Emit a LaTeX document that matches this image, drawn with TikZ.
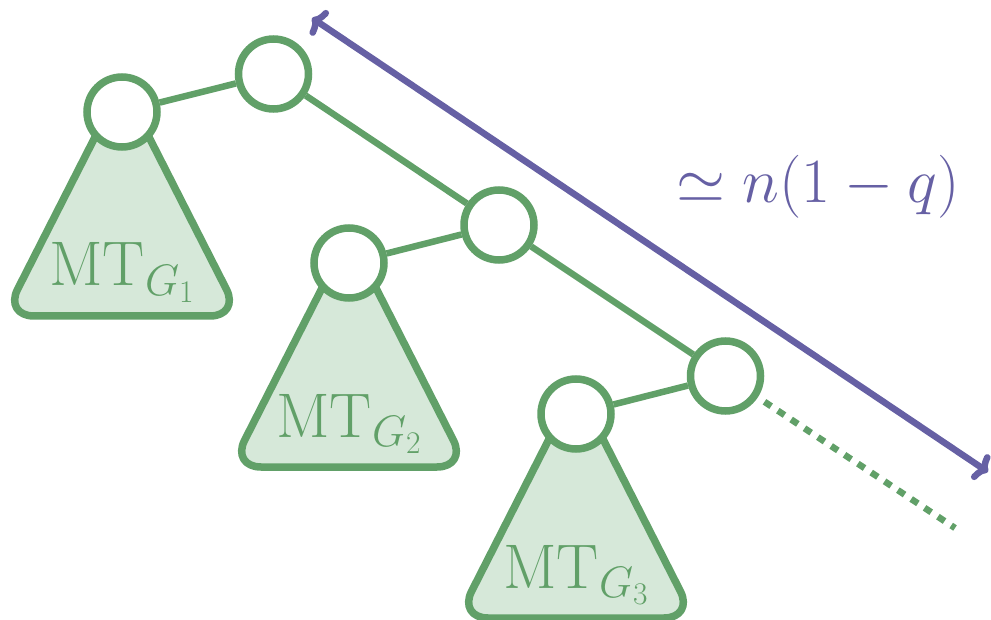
\RequirePackage{fix-cm}
\documentclass[tikz,border=0pt]{standalone}
\usetikzlibrary{arrows.meta,calc}
\definecolor{grn}{RGB}{97,160,104}
\definecolor{grnfill}{RGB}{214,232,217}
\definecolor{prp}{RGB}{102,96,164}
\tikzset{
  vtx/.style={circle,draw=grn,fill=white,line width=7.5pt,minimum size=70pt,inner sep=0pt},
  edg/.style={draw=grn,line width=6.5pt},
  tri/.style={draw=grn,fill=grnfill,line width=7.5pt,rounded corners=30pt,line join=round},
  lbl/.style={text=grn,anchor=base,inner sep=0pt,font=\fontsize{63}{70}\selectfont},
  plbl/.style={text=prp,anchor=base,inner sep=0pt,font=\fontsize{63}{70}\selectfont},
  parrow/.style={draw=prp,line width=6.5pt,{To[length=12pt,width=30pt]}-{To[length=12pt,width=30pt]}},
  dots/.style={edg,dash pattern=on 8pt off 8pt,dash phase=8pt},
}
\begin{document}
\begin{tikzpicture}[x=1pt,y=-1pt]
\useasboundingbox (0,0) rectangle (991,620);
\coordinate (c1) at (122,112);
\coordinate (c2) at (349,263);
\coordinate (c3) at (576,414);
% subtrees
\foreach \i in {1,2,3}{
  \path[tri] ($(c\i)+(0,-28)$) -- ($(c\i)+(-118,204)$) -- ($(c\i)+(118,204)$) -- cycle;
}
\node[lbl] (t1) at ($(c1)+(0,174)$) {$\mathrm{MT}_{G_1}$};
\node[lbl] (t2) at ($(c2)+(0,174)$) {$\mathrm{MT}_{G_2}$};
\node[lbl] (t3) at ($(c3)+(0,174)$) {$\mathrm{MT}_{G_3}$};
% vertices
\node[vtx] (A1) at (c1) {};
\node[vtx] (A2) at (c2) {};
\node[vtx] (A3) at (c3) {};
\node[vtx] (B1) at (273.5,74) {};
\node[vtx] (B2) at (499,225) {};
\node[vtx] (B3) at (725.5,376) {};
\coordinate (dend) at (955,528);
% edges
\draw[edg] (A1) -- (B1);
\draw[edg] (B1) -- (B2);
\draw[edg] (B2) -- (A2);
\draw[edg] (B2) -- (B3);
\draw[edg] (B3) -- (A3);
\draw[dots] (B3) -- (dend);
% length arrow
\coordinate (p1) at (312,18);
\coordinate (p2) at (988,472);
\draw[parrow] (p1) -- (p2);
\node[plbl] (len) at (818,203) {$\simeq n(1-q)$};
\end{tikzpicture}
\end{document}
